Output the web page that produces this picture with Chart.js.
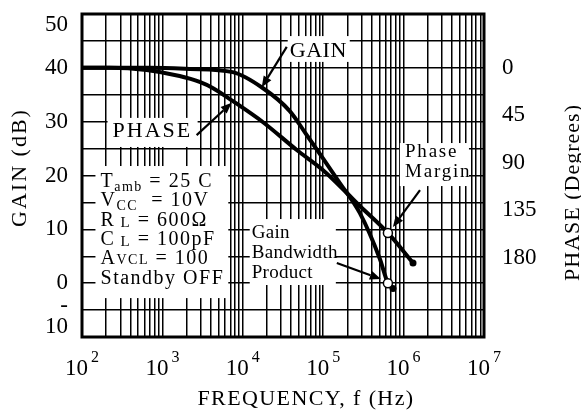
<!DOCTYPE html>
<html>
<head>
<meta charset="utf-8">
<script src="https://cdn.jsdelivr.net/npm/chart.js@4.4.1/dist/chart.umd.min.js"></script>
<style>
  html, body { margin: 0; padding: 0; background: #fff; }
  canvas { display: block; }
</style>
</head>
<body>
<canvas id="c" width="581" height="414"></canvas>
<script>
const FONT = '"Liberation Serif", "Times New Roman", serif';

// Open-loop gain (dB) against frequency (Hz)
const gainFreq = [100, 693, 2183, 7480, 17700, 38400, 62500, 98900, 161000, 286000, 507000, 638000, 738000];
const gainDb   = [40, 40, 39.8, 39.2, 36.25, 31.97, 27.5, 23.24, 18.6, 13.0, 4.5, 0, -1.0];

// Phase shift (degrees) against frequency (Hz)
const phaseFreq = [100, 220, 635, 1637, 2904, 4217, 7480, 17700, 46900, 98900, 197000, 286000, 638000, 1310000];
const phaseDeg  = [0, 0, 2.1, 7.8, 13.4, 19.1, 31.4, 51.3, 77.8, 96.7, 118.5, 130.8, 156.3, 184.7];

// Unity-gain crossing: gain-bandwidth product and the phase at that frequency
const unityFreq = 638000;
const unityGainDb = 0;
const unityPhaseDeg = 156.3;

// Axis ticks
const gainTickStep = 5;
const phaseTicks = [0, 45, 90, 135, 180];
const decadeExponents = [2, 3, 4, 5, 6, 7];

// Test conditions block: each line is a list of [text, fontSize, baselineShift]
const conditionLines = [
  [['T', 20], ['amb', 14, 4], [' = 25 C', 20]],
  [['V', 20], ['CC', 14, 4], ['  = 10V', 20]],
  [['R', 20], [' L', 15, 1], [' = 600\u03A9', 20]],
  [['C', 20], [' L', 15, 1], [' = 100pF', 20]],
  [['A', 20], ['VCL', 14, 0], [' = 100', 20]],
  [['Standby OFF', 20]]
];

// Annotation layout, expressed in frequency / gain-axis units
const panels = [
  { f0: 36200, f1: 214000, db0: 45.9, db1: 41.1 },
  { f0: 208, f1: 2742, db0: 30.7, db1: 25.3 },
  { f0: 147, f1: 6600, db0: 21.76, db1: -2.77 },
  { f0: 12200, f1: 143600, db0: 11.91, db1: -0.34 },
  { f0: 899000, f1: 6.5e6, db0: 26.03, db1: 18.04 }
];

const textBlocks = [
  { f: 38400, db: 42.0, spacing: 0.5, lineGap: 0, lines: [[['GAIN', 22]]] },
  { f: 240, db: 27.1, spacing: 2, lineGap: 0, lines: [[['PHASE', 22]]] },
  { f: 170, db: 17.86, spacing: 1.5, lineGap: 19.3, lines: conditionLines },
  { f: 12900, db: 8.44, spacing: 0.3, lineGap: 20, lines: [[['Gain', 19]], [['Bandwidth', 19]], [['Product', 19]]] },
  { f: 1040000, db: 23.49, spacing: 1.8, lineGap: 20, lines: [[['Phase', 19]], [['Margin', 19]]] }
];

const arrows = [
  { from: [35200, 43.9], to: [17200, 36.4] },
  { from: [2666, 27.5], to: [7276, 33.5] },
  { from: [147600, 3.74], to: [521000, 0.77] },
  { from: [1600000, 17.3], to: [736000, 10.43] }
];

function drawRuns(ctx, runs, x, y, spacing) {
  ctx.letterSpacing = spacing + 'px';
  for (const [t, size, dy] of runs) {
    ctx.font = size + 'px ' + FONT;
    ctx.fillText(t, x, y + (dy || 0));
    x += ctx.measureText(t).width;
  }
}

function drawArrow(ctx, x0, y0, x1, y1) {
  const a = Math.atan2(y1 - y0, x1 - x0);
  const len = 11, half = 4.5;
  const bx = x1 - len * Math.cos(a), by = y1 - len * Math.sin(a);
  ctx.beginPath();
  ctx.moveTo(x0, y0);
  ctx.lineTo(bx, by);
  ctx.stroke();
  ctx.beginPath();
  ctx.moveTo(x1, y1);
  ctx.lineTo(bx + half * Math.sin(a), by - half * Math.cos(a));
  ctx.lineTo(bx - half * Math.sin(a), by + half * Math.cos(a));
  ctx.closePath();
  ctx.fill();
}

const annotationLayer = {
  id: 'annotationLayer',
  beforeDatasetsDraw(chart) {
    const { ctx, chartArea: area, scales: { x, y } } = chart;
    const X = f => x.getPixelForValue(f), Y = v => y.getPixelForValue(v);
    ctx.save();
    // white panels that sit behind the labels
    ctx.fillStyle = '#fff';
    for (const p of panels) {
      const x0 = X(p.f0), x1 = X(p.f1), y0 = Y(p.db0), y1 = Y(p.db1);
      ctx.fillRect(x0, y0, x1 - x0, y1 - y0);
    }
    // plot frame
    ctx.strokeStyle = '#000';
    ctx.lineWidth = 3;
    ctx.strokeRect(area.left, area.top, area.right - area.left, area.bottom - area.top);
    // labels inside the plot
    ctx.fillStyle = '#000';
    ctx.textBaseline = 'alphabetic';
    ctx.textAlign = 'left';
    for (const b of textBlocks) {
      const bx = X(b.f), by = Y(b.db);
      b.lines.forEach((runs, i) => drawRuns(ctx, runs, bx, by + i * b.lineGap, b.spacing));
    }
    ctx.letterSpacing = '0px';
    ctx.restore();
  },
  afterDatasetsDraw(chart) {
    const { ctx, scales: { x, y } } = chart;
    const X = f => x.getPixelForValue(f), Y = v => y.getPixelForValue(v);
    ctx.save();
    ctx.strokeStyle = '#000';
    ctx.fillStyle = '#000';
    ctx.lineWidth = 2.2;
    ctx.lineCap = 'butt';
    for (const a of arrows) {
      drawArrow(ctx, X(a.from[0]), Y(a.from[1]), X(a.to[0]), Y(a.to[1]));
    }
    ctx.restore();
  },
  afterDraw(chart) {
    const { ctx, chartArea: area, scales: { x } } = chart;
    ctx.save();
    ctx.fillStyle = '#000';
    ctx.textBaseline = 'alphabetic';
    ctx.textAlign = 'left';
    // decade labels 10^n on the frequency axis
    for (const e of decadeExponents) {
      const px = x.getPixelForValue(Math.pow(10, e));
      ctx.font = '23px ' + FONT;
      const wb = ctx.measureText('10').width;
      ctx.font = '16px ' + FONT;
      const we = ctx.measureText(String(e)).width;
      const x0 = px - (wb + 3 + we) / 2;
      ctx.font = '23px ' + FONT;
      ctx.fillText('10', x0, area.bottom + 38);
      ctx.font = '16px ' + FONT;
      ctx.fillText(String(e), x0 + wb + 3, area.bottom + 25);
    }
    // axis titles
    ctx.font = '22px ' + FONT;
    ctx.textAlign = 'center';
    ctx.letterSpacing = '1.4px';
    ctx.fillText('FREQUENCY, f (Hz)', (area.left + area.right) / 2 + 23, area.bottom + 68);

    ctx.letterSpacing = '2px';
    ctx.save();
    ctx.translate(26, (area.top + area.bottom) / 2 - 8);
    ctx.rotate(-Math.PI / 2);
    ctx.fillText('GAIN (dB)', 0, 0);
    ctx.restore();

    ctx.letterSpacing = '1px';
    ctx.save();
    ctx.translate(579, (area.top + area.bottom) / 2 + 17);
    ctx.rotate(-Math.PI / 2);
    ctx.fillText('PHASE (Degrees)', 0, 0);
    ctx.restore();
    ctx.letterSpacing = '0px';
    ctx.restore();
  }
};

const lastDot = n => (c => (c.dataIndex === n - 1 ? 3.5 : 0));

new Chart(document.getElementById('c'), {
  type: 'line',
  data: {
    datasets: [
      {
        label: 'Gain bandwidth product',
        type: 'scatter',
        data: [{ x: unityFreq, y: unityGainDb }],
        yAxisID: 'y',
        pointRadius: 4.5,
        pointBackgroundColor: '#fff',
        pointBorderColor: '#000',
        pointBorderWidth: 1.5,
        order: 0
      },
      {
        label: 'Phase margin',
        type: 'scatter',
        data: [{ x: unityFreq, y: unityPhaseDeg }],
        yAxisID: 'phase',
        pointRadius: 4.5,
        pointBackgroundColor: '#fff',
        pointBorderColor: '#000',
        pointBorderWidth: 1.5,
        order: 0
      },
      {
        label: 'GAIN',
        data: gainFreq.map((f, i) => ({ x: f, y: gainDb[i] })),
        yAxisID: 'y',
        borderColor: '#000',
        borderWidth: 4,
        borderCapStyle: 'round',
        borderJoinStyle: 'round',
        cubicInterpolationMode: 'monotone',
        pointRadius: lastDot(gainFreq.length),
        pointBackgroundColor: '#000',
        pointBorderWidth: 0,
        order: 1
      },
      {
        label: 'PHASE',
        data: phaseFreq.map((f, i) => ({ x: f, y: phaseDeg[i] })),
        yAxisID: 'phase',
        borderColor: '#000',
        borderWidth: 4,
        borderCapStyle: 'round',
        borderJoinStyle: 'round',
        cubicInterpolationMode: 'monotone',
        pointRadius: lastDot(phaseFreq.length),
        pointBackgroundColor: '#000',
        pointBorderWidth: 0,
        order: 1
      }
    ]
  },
  options: {
    responsive: false,
    animation: false,
    events: [],
    layout: { padding: { top: 14, left: 0, right: 0, bottom: 0 } },
    plugins: { legend: { display: false }, tooltip: { enabled: false } },
    scales: {
      x: {
        type: 'logarithmic',
        position: 'bottom',
        min: 1e2,
        max: 1e7,
        afterBuildTicks(s) {
          const t = [];
          for (let e = 2; e < 7; e++) for (let m = 1; m < 10; m++) t.push({ value: m * Math.pow(10, e) });
          t.push({ value: 1e7 });
          s.ticks = t;
        },
        afterFit(s) { s.height = 77; s.paddingLeft = 0; s.paddingRight = 0; },
        ticks: { display: false, autoSkip: false },
        grid: { color: '#000', lineWidth: 1.5, drawTicks: false },
        border: { display: false }
      },
      y: {
        position: 'left',
        min: -10,
        max: 50,
        ticks: {
          stepSize: gainTickStep,
          autoSkip: false,
          color: '#000',
          padding: 14,
          font: { family: FONT, size: 23, lineHeight: '21px' },
          callback(v) {
            if (v % 10 !== 0) return '';
            if (v === -10) return ['-', '10', '', ''];
            if (v === 50) return ['', '50'];
            return String(v);
          }
        },
        grid: { color: '#000', lineWidth: 1.5, drawTicks: false },
        border: { display: false },
        afterFit(s) { s.width = 82; s.paddingTop = 0; s.paddingBottom = 0; }
      },
      phase: {
        position: 'right',
        reverse: true,
        min: -50.9,
        max: 254.8,
        afterBuildTicks(s) { s.ticks = phaseTicks.map(v => ({ value: v })); },
        ticks: {
          autoSkip: false,
          color: '#000',
          padding: 18,
          font: { family: FONT, size: 23 },
          callback: v => String(v)
        },
        grid: { display: false, drawTicks: false },
        border: { display: false },
        afterFit(s) { s.width = 97; s.paddingTop = 0; s.paddingBottom = 0; }
      }
    }
  },
  plugins: [annotationLayer]
});
</script>
</body>
</html>
